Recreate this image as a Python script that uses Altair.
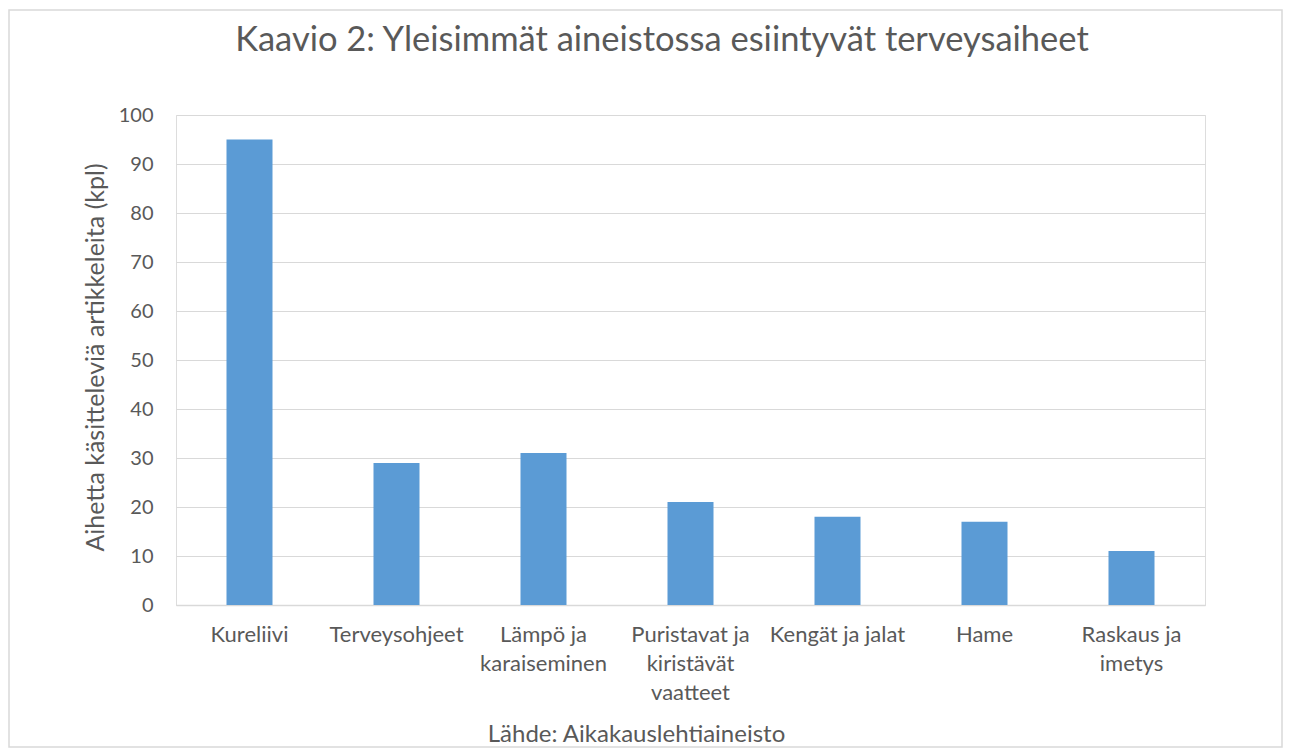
import altair as alt
import pandas as pd

categories = [
    "Kureliivi",
    "Terveysohjeet",
    "Lämpö ja\nkaraiseminen",
    "Puristavat ja\nkiristävät\nvaatteet",
    "Kengät ja jalat",
    "Hame",
    "Raskaus ja\nimetys",
]
values = [95, 29, 31, 21, 18, 17, 11]
y_ticks = [0, 10, 20, 30, 40, 50, 60, 70, 80, 90, 100]

title_text = "Kaavio 2: Yleisimmät aineistossa esiintyvät terveysaiheet"
y_title = "Aihetta käsitteleviä artikkeleita (kpl)"
x_title = "Lähde: Aikakauslehtiaineisto"

df = pd.DataFrame({"cat": categories, "val": values})

FONT = "Lato"
TXT = "#595959"
GRID = "#d9d9d9"

W, H = 1029, 490
PL, PT, PR, PB = 168, 107, 78, 143

bars = alt.Chart(df).mark_bar(color="#5b9bd5").encode(
    x=alt.X(
        "cat:N",
        sort=categories,
        scale=alt.Scale(paddingInner=0.687, paddingOuter=0.3435),
        axis=alt.Axis(
            title=x_title,
            labelExpr="split(datum.label, '\\n')",
            labelAngle=0,
            labelFont=FONT,
            labelFontSize=22,
            labelColor=TXT,
            labelPadding=19,
            labelLineHeight=29,
            labelLimit=0,
            ticks=False,
            domain=True,
            domainColor=GRID,
            domainWidth=1.5,
            titleFont=FONT,
            titleFontSize=24,
            titleFontWeight="normal",
            titleColor=TXT,
            titleX=460,
            titleY=136,
            titleBaseline="alphabetic",
            titleAnchor="start",
            titleAlign="center",
        ),
    ),
    y=alt.Y(
        "val:Q",
        scale=alt.Scale(domain=[0, 100]),
        axis=alt.Axis(
            title=y_title,
            values=y_ticks,
            labelFont=FONT,
            labelFontSize=20,
            labelColor=TXT,
            labelPadding=23,
            ticks=False,
            domain=False,
            grid=True,
            gridColor=GRID,
            gridWidth=1,
            titleFont=FONT,
            titleFontSize=25,
            titleFontWeight="normal",
            titleColor=TXT,
            titleAngle=-90,
            titleX=-73,
            titleY=242,
            titleBaseline="alphabetic",
            titleAlign="center",
            titleAnchor="start",
        ),
    ),
)

title_df = pd.DataFrame({"t": [title_text]})
title = alt.Chart(title_df).mark_text(
    font=FONT, fontSize=34.5, color=TXT, align="center", baseline="alphabetic"
).encode(
    text="t:N",
    x=alt.value(662 - 176),
    y=alt.value(51 - 115),
)

frame_df = pd.DataFrame({"k": [0]})
frame = alt.Chart(frame_df).mark_rect(fill=None, stroke=GRID, strokeWidth=1.5).encode(
    x=alt.value(-PL + 1),
    x2=alt.value(W + PR - 1),
    y=alt.value(-PT + 2),
    y2=alt.value(H + PB - 1),
)

chart = alt.layer(bars, title, frame).properties(
    width=W,
    height=H,
    autosize=alt.AutoSizeParams(type="none"),
    padding={"left": PL, "top": PT, "right": PR, "bottom": PB},
).configure_view(stroke=None).configure(background="white")

chart.save("out.html", embed_options={"renderer": "svg", "actions": False})
